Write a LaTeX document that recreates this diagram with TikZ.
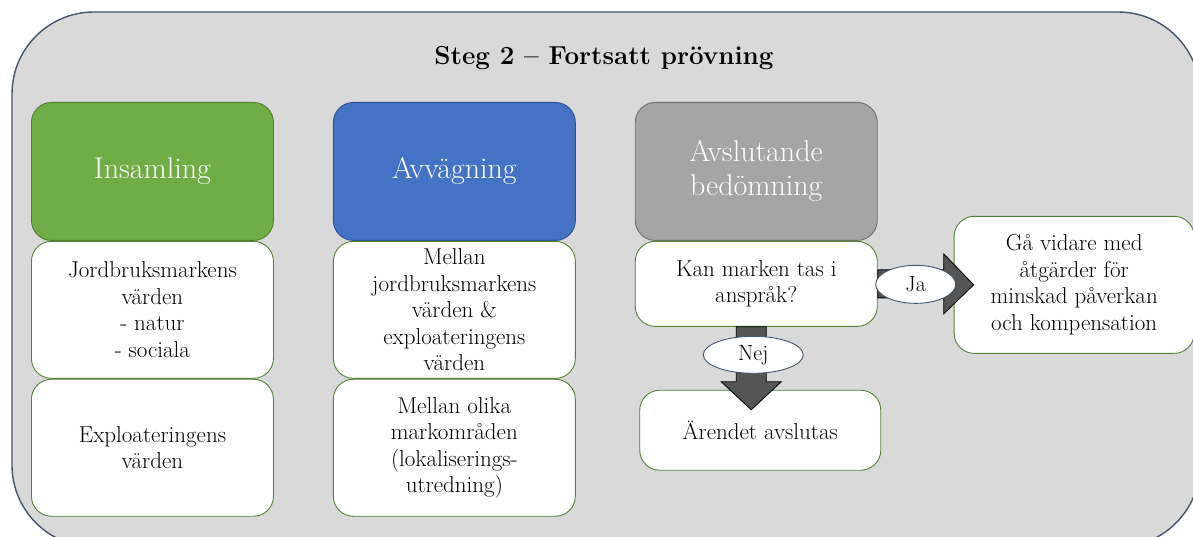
\documentclass[tikz,border=0pt]{standalone}
\usepackage{fontspec}
\usepackage{tikz}
\usetikzlibrary{arrows, positioning, shapes, calc}

\definecolor{framegray}{HTML}{D9D9D9}
\definecolor{frameline}{HTML}{44546A}
\definecolor{insgreen}{HTML}{70AD47}
\definecolor{insline}{HTML}{507E32}
\definecolor{avvblue}{HTML}{4472C4}
\definecolor{avvline}{HTML}{2F528F}
\definecolor{avsgray}{HTML}{A5A5A5}
\definecolor{avsline}{HTML}{6F6F6F}
\definecolor{boxline}{HTML}{548235}
\definecolor{arrowgray}{HTML}{555555}

\begin{document}
\begin{tikzpicture}[x=1pt, y=-1pt,
headnode/.style={rectangle, rounded corners=20pt, line width=0.9pt, text=white, align=center, minimum width=242pt, minimum height=138pt, inner sep=2pt, font=\fontsize{30}{34}\selectfont},
textnode/.style={rectangle, rounded corners=20pt, fill=white, draw=boxline, line width=0.9pt, align=center, minimum width=242pt, minimum height=137pt, inner sep=2pt, font=\fontsize{23}{26.5}\selectfont},
answernode/.style={ellipse, fill=white, draw=frameline, line width=0.9pt, inner sep=0pt, font=\fontsize{22}{26}\selectfont},
blockarrow/.style={fill=arrowgray, draw=black, line width=0.8pt},
]
\useasboundingbox (0,0) rectangle (1193,537);
\clip (0,0) rectangle (1193,537);
\draw[fill=framegray, draw=frameline, line width=1.4pt, rounded corners=82pt] (12,12) rectangle (1200,547);

%Nodes
\node[font=\bfseries\fontsize{26}{30}\selectfont] (title) at (604,58) {Steg 2 – Fortsatt prövning};
\node[headnode, fill=insgreen, draw=insline, anchor=north west] (ins) at (31,102) {Insamling};
\node[textnode] (ins1) [below=0pt of ins] {Jordbruksmarkens\\värden\\- natur\\- sociala};
\node[textnode] (ins2) [below=0pt of ins1] {Exploateringens\\värden};
\node[headnode, fill=avvblue, draw=avvline] (avv) [right=59pt of ins] {Avvägning};
\node[textnode] (avv1) [below=0pt of avv] {Mellan\\jordbruksmarkens\\värden \&\\exploateringens\\värden};
\node[textnode] (avv2) [below=0pt of avv1] {Mellan olika\\markområden\\(lokaliserings-\\utredning)};
\node[headnode, fill=avsgray, draw=avsline] (avs) [right=59pt of avv] {Avslutande\\bedömning};
\node[textnode, minimum height=85pt] (kan) [below=0pt of avs] {Kan marken tas i\\anspråk?};
\node[textnode, minimum height=80pt, minimum width=241pt] (aren) [below=63pt of kan, xshift=4pt] {Ärendet avslutas};
\node[textnode, minimum width=240pt] (gaa) [right=76pt of kan, yshift=-1pt] {Gå vidare med\\åtgärder för\\minskad påverkan\\och kompensation};

%Arrows
\draw[blockarrow] ($(kan.east)+(0,-14)$) -- ++(66,0) -- ++(0,-16) -- ($(gaa.west)+(20,0)$) -- ($(kan.east)+(66,30)$) -- ++(0,-16) -- ($(kan.east)+(0,14)$) -- cycle;
\draw[blockarrow] ($(kan.south)+(-20,0)$) -- ++(0,55) -- ++(-15,0) -- ($(aren.north)+(-9,20)$) -- ($(kan.south)+(25,55)$) -- ++(-15,0) -- ($(kan.south)+(10,0)$) -- cycle;
\node[answernode, minimum width=80pt, minimum height=38pt] (ja) at ($(kan.east)!0.5!(gaa.west)$) {Ja};
\node[answernode, minimum width=100pt, minimum height=37pt] (nej) at ($(kan.south)+(-3,28)$) {Nej};

\end{tikzpicture}
\end{document}
